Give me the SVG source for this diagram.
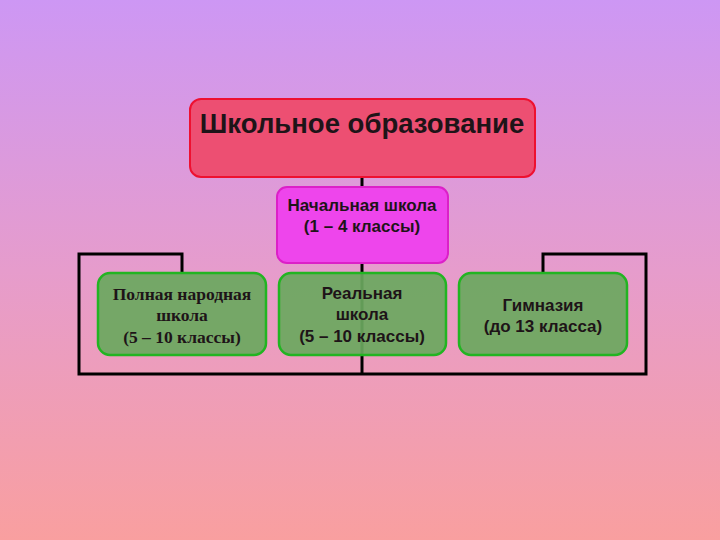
<svg xmlns="http://www.w3.org/2000/svg" width="720" height="540" viewBox="0 0 720 540">
<defs>
<linearGradient id="bg" x1="0" y1="0" x2="0" y2="1">
<stop offset="0" stop-color="#cd97f4"/>
<stop offset="0.5" stop-color="#e69ccc"/>
<stop offset="1" stop-color="#f99f9f"/>
</linearGradient>
</defs>
<style>
.sans{font-family:"Liberation Sans",Arial,sans-serif;font-weight:bold;text-anchor:middle;fill:#1e1418}
.serif{font-family:"Liberation Serif","Times New Roman",serif;font-weight:bold;text-anchor:middle;fill:#1e1418}
.green{fill:#6aa85e;fill-opacity:0.92;stroke:#22b422;stroke-width:2.5}
.conn{fill:none;stroke:#000;stroke-width:3}
</style>
<rect width="720" height="540" fill="url(#bg)"/>
<g id="connectors">
<line class="conn" x1="362" y1="177" x2="362" y2="190"/>
<line class="conn" x1="362" y1="262" x2="362" y2="374"/>
<polyline class="conn" points="182,273 182,254 79,254 79,374 646,374 646,254 543,254 543,273"/>
</g>
<g id="root">
<rect x="190" y="99" width="345" height="78" rx="11" fill="#ed4f72" stroke="#ee1030" stroke-width="2"/>
<text class="sans" x="362" y="133" font-size="27.5">Школьное образование</text>
</g>
<g id="primary">
<rect x="277" y="187" width="171" height="76" rx="10" fill="#ee45ec" stroke="#dc20c8" stroke-width="2"/>
<text class="sans" x="362" y="211" font-size="17">Начальная школа</text>
<text class="sans" x="362" y="232" font-size="17">(1 – 4 классы)</text>
</g>
<g id="folk">
<rect class="green" x="98" y="273" width="168" height="82" rx="12"/>
<text class="serif" x="182" y="300" font-size="17.5">Полная народная</text>
<text class="serif" x="182" y="321" font-size="17.5">школа</text>
<text class="serif" x="182" y="343" font-size="17.5">(5 – 10 классы)</text>
</g>
<g id="real">
<rect class="green" x="279" y="273" width="167" height="82" rx="12"/>
<text class="sans" x="362" y="299" font-size="17">Реальная</text>
<text class="sans" x="362" y="320" font-size="17">школа</text>
<text class="sans" x="362" y="342" font-size="17">(5 – 10 классы)</text>
</g>
<g id="gymnasium">
<rect class="green" x="459" y="273" width="168" height="82" rx="12"/>
<text class="sans" x="543" y="311" font-size="17">Гимназия</text>
<text class="sans" x="543" y="332" font-size="17">(до 13 класса)</text>
</g>
</svg>
